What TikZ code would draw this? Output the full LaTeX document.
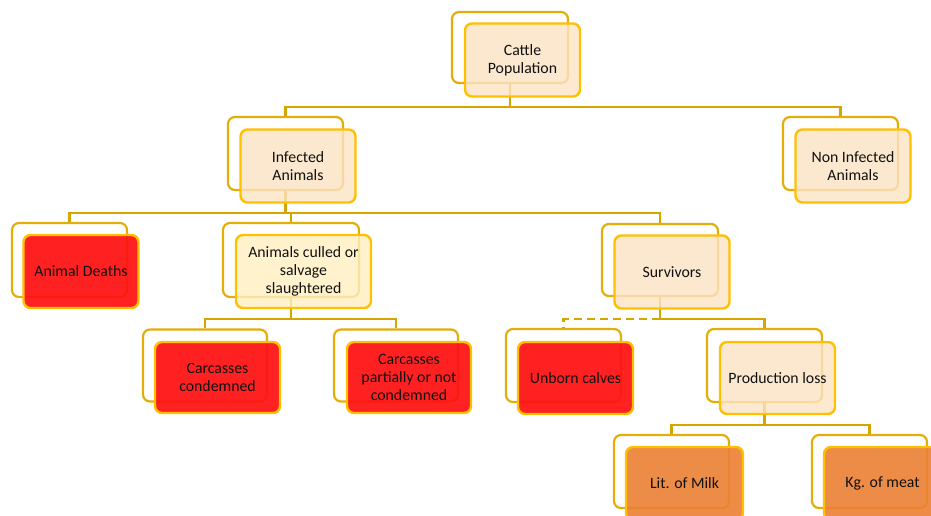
\documentclass[tikz,border=0pt]{standalone}
\usepackage{fontspec}
\setmainfont{Carlito}
\begin{document}
\begin{tikzpicture}[x=1pt,y=-1pt,
  back/.style={draw=backcol, line width=2.2pt, fill=white, rounded corners=7pt, inner sep=0pt},
  front/.style={draw=frontcol, line width=2.4pt, rounded corners=7pt, inner sep=1pt, align=center,
     font=\fontsize{15.8}{18}\selectfont, text=textcol, text opacity=1},
  peach/.style={fill=peachcol, fill opacity=0.8},
  pale/.style={fill=palecol, fill opacity=0.8},
  redbox/.style={fill=redcol, fill opacity=0.92},
  orangebox/.style={fill=orangecol, fill opacity=0.9},
  conn/.style={draw=conncol, line width=2.2pt},
  dconn/.style={conn, dash pattern=on 8pt off 5pt}]
\definecolor{backcol}{HTML}{E3AD0A}
\definecolor{frontcol}{HTML}{FFC000}
\definecolor{conncol}{HTML}{D6A500}
\definecolor{textcol}{HTML}{111111}
\definecolor{peachcol}{HTML}{FCE3C3}
\definecolor{palecol}{HTML}{FFEFC0}
\definecolor{redcol}{HTML}{FF0F0F}
\definecolor{orangecol}{HTML}{EC8033}
\useasboundingbox (0,0) rectangle (931,515);
\clip (0,0) rectangle (931,515);
% back frames
\node[back, minimum width=116pt, minimum height=71pt] (cpB) at (510,47.5) {};
\node[back, minimum width=115pt, minimum height=73pt] (inB) at (285.5,153.5) {};
\node[back, minimum width=115pt, minimum height=73pt] (niB) at (840.5,153.5) {};
\node[back, minimum width=115pt, minimum height=74pt] (adB) at (69.5,260) {};
\node[back, minimum width=136pt, minimum height=74pt] (acB) at (291,260) {};
\node[back, minimum width=116pt, minimum height=72pt] (svB) at (660,260) {};
\node[back, minimum width=124pt, minimum height=72pt] (ccB) at (205,365.5) {};
\node[back, minimum width=124pt, minimum height=72pt] (cnB) at (396,365.5) {};
\node[back, minimum width=115pt, minimum height=73pt] (ubB) at (563.5,365.5) {};
\node[back, minimum width=115pt, minimum height=73pt] (plB) at (764.5,365.5) {};
\node[back, minimum width=115pt, minimum height=73pt] (lmB) at (671.5,471.5) {};
\node[back, minimum width=115pt, minimum height=73pt] (kmB) at (869.5,471.5) {};
% bus coordinates
\coordinate (b1) at (0,107);
\coordinate (b2) at (0,213);
\coordinate (b3) at (0,319);
\coordinate (b4) at (0,425);
% connectors
\draw[conn] (cpB.south) -- (cpB.south |- b1) -| (inB.north);
\draw[conn] (cpB.south |- b1) -| (niB.north);
\draw[conn] (inB.south) -- (inB.south |- b2) -| (adB.north);
\draw[conn] (inB.south |- b2) -| (acB.north);
\draw[conn] (inB.south |- b2) -| (svB.north);
\draw[conn] (acB.south) -- (acB.south |- b3) -| (ccB.north);
\draw[conn] (acB.south |- b3) -| (cnB.north);
\draw[conn] (svB.south) -- (svB.south |- b3) -| (plB.north);
\draw[dconn] (svB.south |- b3) -| (ubB.north);
\draw[conn] (plB.south) -- (plB.south |- b4) -| (lmB.north);
\draw[conn] (plB.south |- b4) -| (kmB.north);
% front boxes
\node[front, peach, minimum width=115pt, minimum height=73pt] (cp) at ([shift={(12.5,12.5)}]cpB.center) {Cattle\\Population};
\node[front, peach, minimum width=115pt, minimum height=73pt] (in) at ([shift={(12.5,12.5)}]inB.center) {Infected\\Animals};
\node[front, peach, minimum width=115pt, minimum height=73pt] (ni) at ([shift={(12.5,12.5)}]niB.center) {Non Infected\\Animals};
\node[front, redbox, minimum width=115pt, minimum height=73pt] (ad) at ([shift={(11.5,11.5)}]adB.center) {Animal Deaths};
\node[front, pale, minimum width=135pt, minimum height=73pt] (ac) at ([shift={(12.5,11.5)}]acB.center) {Animals culled or\\salvage\\slaughtered};
\node[front, peach, minimum width=115pt, minimum height=73pt] (sv) at ([shift={(12,12)}]svB.center) {Survivors};
\node[front, redbox, minimum width=125pt, minimum height=71pt] (cc) at ([shift={(12.5,12)}]ccB.center) {Carcasses\\condemned};
\node[front, redbox, minimum width=124pt, minimum height=71pt] (cn) at ([shift={(13,12)}]cnB.center) {Carcasses\\partially or not\\condemned};
\node[front, redbox, minimum width=115pt, minimum height=72pt] (ub) at ([shift={(12,12.5)}]ubB.center) {Unborn calves};
\node[front, peach, minimum width=115pt, minimum height=72pt] (pl) at ([shift={(13,12.5)}]plB.center) {Production loss};
\node[front, orangebox, minimum width=117pt, minimum height=73pt] (lm) at ([shift={(13,12)}]lmB.center) {Lit. of Milk};
\node[front, orangebox, minimum width=117pt, minimum height=73pt] (km) at ([shift={(13,12)}]kmB.center) {Kg. of meat};
\end{tikzpicture}
\end{document}
